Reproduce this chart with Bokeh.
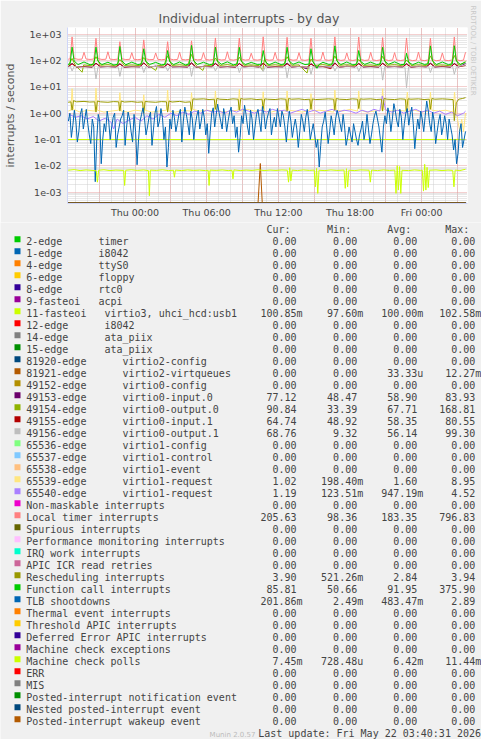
import math
from bokeh.plotting import figure
from bokeh.models import Range1d, FixedTicker, Title
from bokeh.embed import file_html
from bokeh.resources import INLINE
from bokeh.core.properties import value

# ======================= DATA =======================
TITLE = "Individual interrupts - by day"
Y_LABEL = "interrupts / second"
SIDE_TEXT = "RRDTOOL / TOBI OETIKER"
LAST_UPDATE = "Last update: Fri May 22 03:40:31 2026"
FOOTER = "Munin 2.0.57"
HEADERS = ["Cur:", "Min:", "Avg:", "Max:"]

X_TICK_HOURS = [0, 6, 12, 18, 24]          # hours relative to Thu 00:00
X_TICK_LABELS = ["Thu 00:00", "Thu 06:00", "Thu 12:00", "Thu 18:00", "Fri 00:00"]
Y_TICK_VALUES = [1e-3, 1e-2, 1e-1, 1e0, 1e1, 1e2, 1e3]
Y_TICK_LABELS = ["1e-03", "1e-02", "1e-01", "1e+00", "1e+01", "1e+02", "1e+03"]

LEGEND_LABELS = [
    "2-edge      timer", "1-edge      i8042", "4-edge      ttyS0", "6-edge      floppy",
    "8-edge      rtc0", "9-fasteoi   acpi", "11-fasteoi   virtio3, uhci_hcd:usb1",
    "12-edge      i8042", "14-edge      ata_piix", "15-edge      ata_piix",
    "81920-edge      virtio2-config", "81921-edge      virtio2-virtqueues",
    "49152-edge      virtio0-config", "49153-edge      virtio0-input.0",
    "49154-edge      virtio0-output.0", "49155-edge      virtio0-input.1",
    "49156-edge      virtio0-output.1", "65536-edge      virtio1-config",
    "65537-edge      virtio1-control", "65538-edge      virtio1-event",
    "65539-edge      virtio1-request", "65540-edge      virtio1-request",
    "Non-maskable interrupts", "Local timer interrupts", "Spurious interrupts",
    "Performance monitoring interrupts", "IRQ work interrupts", "APIC ICR read retries",
    "Rescheduling interrupts", "Function call interrupts", "TLB shootdowns",
    "Thermal event interrupts", "Threshold APIC interrupts", "Deferred Error APIC interrupts",
    "Machine check exceptions", "Machine check polls", "ERR", "MIS",
    "Posted-interrupt notification event", "Nested posted-interrupt event",
    "Posted-interrupt wakeup event",
]
LEGEND_COLORS = [
    "#00CC00", "#0066B3", "#FF8000", "#FFCC00", "#330099", "#990099", "#CCFF00",
    "#FF0000", "#808080", "#008F00", "#00487D", "#B35A00", "#B38F00", "#6B006B",
    "#8FB300", "#B30000", "#BEBEBE", "#80FF80", "#80C9FF", "#FFC080", "#FFE680",
    "#AA80FF", "#EE00CC", "#FF8080", "#666600", "#FFBFFF", "#00FFCC", "#CC6699",
    "#999900", "#00CC00", "#0066B3", "#FF8000", "#FFCC00", "#330099", "#990099",
    "#CCFF00", "#FF0000", "#808080", "#008F00", "#00487D", "#B35A00",
]
Z = "0.00"
CUR = [Z, Z, Z, Z, Z, Z, "100.85m", Z, Z, Z, Z, Z, Z, "77.12", "90.84", "64.74", "68.76",
       Z, Z, Z, "1.02", "1.19", Z, "205.63", Z, Z, Z, Z, "3.90", "85.81", "201.86m",
       Z, Z, Z, Z, "7.45m", Z, Z, Z, Z, Z]
MIN = [Z, Z, Z, Z, Z, Z, "97.60m", Z, Z, Z, Z, Z, Z, "48.47", "33.39", "48.92", "9.32",
       Z, Z, Z, "198.40m", "123.51m", Z, "98.36", Z, Z, Z, Z, "521.26m", "50.66", "2.49m",
       Z, Z, Z, Z, "728.48u", Z, Z, Z, Z, Z]
AVG = [Z, Z, Z, Z, Z, Z, "100.00m", Z, Z, Z, Z, "33.33u", Z, "58.90", "67.71", "58.35", "56.14",
       Z, Z, Z, "1.60", "947.19m", Z, "183.35", Z, Z, Z, Z, "2.84", "91.95", "483.47m",
       Z, Z, Z, Z, "6.42m", Z, Z, Z, Z, Z]
MAX = [Z, Z, Z, Z, Z, Z, "102.58m", Z, Z, Z, Z, "12.27m", Z, "83.93", "168.81", "80.55", "99.30",
       Z, Z, Z, "8.95", "4.52", Z, "796.83", Z, Z, Z, Z, "3.94", "375.90", "2.89",
       Z, Z, Z, Z, "11.44m", Z, Z, Z, Z, Z]

# series: (hour, value) pairs
ZERO_LINE = [(-5.6, 0.0), (27.67, 0.0)]

FASTEOI11 = [(-5.6, 0.0998), (0.0, 0.1005), (6.0, 0.0992), (12.0, 0.1010), (18.0, 0.0996),
             (24.0, 0.1003), (27.67, 0.10085)]

V81921 = [(10.3, 0.0), (10.49, 0.01227), (10.65, 0.0)]

V49153 = [(-5.6, 57), (-5.27, 78), (-4.9, 56), (-4.27, 60), (-3.6, 55), (-3.27, 80), (-2.9, 57),
          (-2.27, 59), (-1.6, 56), (-1.27, 76), (-0.9, 55), (-0.27, 60), (0.4, 57), (0.73, 82),
          (1.1, 56), (1.73, 61), (2.4, 55), (2.73, 75), (3.1, 57), (3.73, 58), (4.4, 56),
          (4.73, 83.93), (5.1, 55), (5.73, 60), (6.4, 58), (6.73, 79), (7.1, 56), (7.73, 59),
          (8.4, 55), (8.73, 77), (9.1, 57), (9.73, 61), (10.4, 56), (10.73, 80), (11.1, 55),
          (11.73, 58), (12.4, 57), (12.73, 81), (13.1, 56), (13.73, 60), (14.4, 48.47),
          (14.73, 76), (15.1, 57), (15.73, 59), (16.4, 56), (16.73, 82), (17.1, 55), (17.73, 61),
          (18.4, 57), (18.73, 78), (19.1, 56), (19.73, 60), (20.4, 55), (20.73, 80), (21.1, 57),
          (21.73, 59), (22.4, 56), (22.73, 77), (23.1, 55), (23.73, 61), (24.4, 57), (24.73, 81),
          (25.1, 56), (25.73, 60), (26.4, 55), (26.73, 79), (27.1, 57), (27.67, 77.12)]

V49154 = [(-5.6, 64), (-5.27, 120), (-5.0, 66), (-4.43, 36), (-4.3, 68), (-3.6, 63), (-3.27, 140),
          (-2.9, 66), (-2.27, 70), (-1.6, 62), (-1.27, 110), (-0.9, 65), (-0.27, 68), (0.4, 64),
          (0.73, 130), (1.1, 67), (1.73, 42), (1.9, 66), (2.4, 63), (2.73, 150), (3.1, 65),
          (3.73, 69), (4.4, 64), (4.73, 168.81), (5.1, 66), (5.68, 42), (5.85, 67), (6.4, 63),
          (6.73, 125), (7.1, 65), (7.73, 70), (8.4, 62), (8.73, 135), (9.1, 66), (9.73, 68),
          (10.4, 64), (10.69, 42), (10.85, 120), (11.1, 65), (11.73, 69), (12.4, 63), (12.73, 140),
          (13.1, 66), (13.73, 68), (14.4, 33.39), (14.55, 64), (14.73, 115), (15.1, 65),
          (15.73, 70), (16.4, 63), (16.73, 150), (17.1, 66), (17.73, 69), (18.4, 64), (18.73, 110),
          (19.1, 65), (19.73, 68), (20.4, 62), (20.73, 145), (21.1, 66), (21.73, 70), (22.4, 63),
          (22.73, 105), (23.1, 65), (23.73, 69), (24.4, 64), (24.73, 150), (25.1, 66), (25.73, 68),
          (26.4, 63), (26.73, 155), (27.1, 65), (27.67, 90.84)]

V49155 = [(-5.6, 58), (-5.27, 75), (-4.9, 57), (-4.27, 59), (-3.6, 56), (-3.27, 78), (-2.9, 58),
          (-2.27, 60), (-1.6, 57), (-1.27, 74), (-0.9, 56), (-0.27, 58), (0.4, 58), (0.73, 80.55),
          (1.1, 57), (1.73, 60), (2.4, 56), (2.73, 73), (3.1, 58), (3.73, 59), (4.4, 57), (4.73, 79),
          (5.1, 56), (5.73, 60), (6.4, 58), (6.73, 76), (7.1, 57), (7.73, 59), (8.4, 56), (8.73, 77),
          (9.1, 58), (9.73, 60), (10.4, 57), (10.73, 78), (11.1, 56), (11.73, 59), (12.4, 58),
          (12.73, 75), (13.1, 57), (13.73, 60), (14.4, 56), (14.73, 74), (15.1, 58), (15.73, 59),
          (16.4, 48.92), (16.73, 79), (17.1, 56), (17.73, 60), (18.4, 58), (18.73, 76), (19.1, 57),
          (19.73, 59), (20.4, 56), (20.73, 78), (21.1, 58), (21.73, 60), (22.4, 57), (22.73, 73),
          (23.1, 56), (23.73, 59), (24.4, 58), (24.73, 77), (25.1, 57), (25.73, 60), (26.4, 56),
          (26.73, 75), (27.1, 58), (27.67, 64.74)]

V49156 = [(-5.6, 57), (-5.4, 58), (-5.27, 40), (-5.1, 59), (-4.27, 56), (-3.4, 58), (-3.27, 20),
          (-3.1, 57), (-2.27, 58), (-1.4, 56), (-1.27, 25), (-1.1, 58), (-0.27, 57), (0.6, 58),
          (0.73, 35), (0.9, 57), (1.73, 59), (2.6, 56), (2.73, 40), (2.9, 58), (3.73, 57), (4.6, 58),
          (4.73, 25), (4.9, 57), (5.73, 58), (6.6, 56), (6.73, 40), (6.9, 58), (7.73, 57), (8.6, 58),
          (8.73, 35), (8.9, 56), (9.73, 58), (10.6, 57), (10.73, 38), (10.9, 58), (11.73, 56),
          (12.6, 58), (12.73, 22), (12.9, 57), (13.73, 58), (14.6, 56), (14.73, 30), (14.9, 58),
          (15.73, 57), (16.6, 58), (16.73, 40), (16.9, 56), (17.73, 58), (18.6, 57), (18.73, 38),
          (18.9, 58), (19.73, 56), (20.6, 58), (20.73, 18), (20.9, 57), (21.73, 58), (22.6, 56),
          (22.73, 9.32), (22.9, 57), (23.73, 58), (24.6, 57), (24.73, 35), (24.9, 58), (25.73, 56),
          (26.6, 58), (26.73, 30), (26.9, 57), (27.67, 68.76)]

V65539 = [(-5.6, 1.2), (-5.37, 1.3), (-5.27, 8.5), (-5.15, 1.4), (-4.6, 1.1), (-4.0, 1.3),
          (-3.37, 1.2), (-3.27, 8.95), (-3.15, 1.3), (-2.6, 1.1), (-2.0, 1.2), (-1.37, 1.3),
          (-1.27, 6.0), (-1.15, 1.2), (-0.6, 1.1), (0.0, 1.3), (0.63, 1.2), (0.73, 5.0), (0.85, 1.3),
          (1.4, 1.1), (2.0, 1.2), (2.63, 1.3), (2.73, 7.5), (2.85, 1.2), (3.4, 1.1), (4.0, 1.3),
          (4.63, 1.2), (4.73, 6.0), (4.85, 1.4), (5.4, 1.2), (6.0, 1.3), (6.63, 1.2), (6.73, 7.0),
          (6.85, 1.3), (7.4, 1.1), (8.0, 1.2), (8.63, 1.3), (8.73, 8.0), (8.85, 1.2), (9.4, 1.4),
          (10.0, 1.2), (10.63, 1.3), (10.73, 6.5), (10.85, 1.2), (11.4, 1.1), (12.0, 1.3),
          (12.63, 1.2), (12.73, 7.0), (12.85, 1.3), (13.4, 1.2), (14.0, 1.1), (14.63, 1.3),
          (14.73, 5.5), (14.85, 1.2), (15.4, 1.3), (16.0, 1.2), (16.63, 1.1), (16.73, 7.5),
          (16.85, 1.3), (17.4, 1.2), (18.0, 1.4), (18.63, 1.2), (18.73, 7.0), (18.85, 1.3),
          (19.4, 1.1), (20.0, 1.2), (20.63, 1.3), (20.73, 8.5), (20.85, 1.4), (21.4, 1.2),
          (22.0, 1.3), (22.63, 1.2), (22.8, 6.3), (22.95, 1.2), (23.4, 1.3), (24.0, 1.1),
          (24.63, 1.2), (24.73, 6.3), (24.85, 1.3), (25.4, 1.2), (26.0, 1.3), (26.63, 1.1),
          (26.75, 6.3), (26.9, 1.0), (27.2, 0.2), (27.35, 0.6), (27.5, 0.198), (27.67, 1.02)]

V65540 = [(-5.5, 0.9), (-5.0, 0.7), (-4.5, 0.8), (-4.0, 0.6), (-3.5, 0.75), (-3.0, 0.5), (-2.5, 0.65),
          (-2.0, 0.45), (-1.8, 0.25), (-1.5, 0.6), (-1.0, 0.4), (-0.5, 0.55), (0.0, 0.7), (0.5, 0.5),
          (1.0, 0.8), (1.5, 0.6), (2.0, 0.9), (2.5, 0.7), (3.0, 1.0), (3.5, 0.8), (4.0, 1.1),
          (4.5, 0.9), (5.0, 1.2), (5.5, 1.0), (6.0, 1.3), (6.5, 1.1), (7.0, 1.2), (7.5, 1.0),
          (8.0, 1.3), (8.5, 1.1), (9.0, 1.4), (9.5, 1.2), (10.0, 1.0), (10.5, 1.3), (11.0, 1.1),
          (11.5, 1.4), (12.0, 1.2), (12.5, 1.3), (13.0, 1.0), (13.5, 1.2), (14.0, 1.4), (14.5, 1.1),
          (15.0, 1.3), (15.5, 1.0), (16.0, 1.2), (16.5, 1.4), (17.0, 1.1), (17.5, 1.3), (18.0, 1.2),
          (18.5, 1.0), (19.0, 1.3), (19.5, 1.1), (20.0, 1.4), (20.5, 1.2), (20.7, 4.52), (21.0, 1.3),
          (21.5, 1.1), (22.0, 1.3), (22.5, 1.0), (23.0, 1.2), (23.5, 1.4), (24.0, 1.1), (24.5, 1.3),
          (25.0, 1.0), (25.5, 1.2), (26.0, 0.9), (26.5, 1.1), (27.0, 0.8), (27.5, 1.0), (27.67, 1.19)]

LOC = [(-5.6, 112), (-5.44, 115), (-5.27, 790), (-5.1, 120), (-4.77, 111), (-4.44, 113), (-4.27, 205),
       (-4.1, 114), (-3.77, 110), (-3.44, 114), (-3.27, 700), (-3.1, 118), (-2.77, 110), (-2.44, 112),
       (-2.27, 215), (-2.1, 113), (-1.77, 109), (-1.44, 113), (-1.27, 520), (-1.1, 116), (-0.77, 109),
       (-0.44, 111), (-0.27, 200), (-0.1, 112), (0.23, 108), (0.56, 112), (0.73, 610), (0.9, 116),
       (1.23, 108), (1.56, 110), (1.73, 195), (1.9, 111), (2.23, 107), (2.56, 112), (2.73, 520),
       (2.9, 115), (3.23, 107), (3.56, 110), (3.73, 210), (3.9, 110), (4.23, 106), (4.56, 111),
       (4.73, 560), (4.9, 114), (5.23, 106), (5.56, 109), (5.73, 200), (5.9, 110), (6.23, 105),
       (6.56, 110), (6.73, 720), (6.9, 113), (7.23, 105), (7.56, 108), (7.73, 215), (7.9, 109),
       (8.23, 104), (8.56, 110), (8.73, 710), (8.9, 113), (9.23, 104), (9.56, 108), (9.73, 190),
       (9.9, 108), (10.23, 104), (10.56, 109), (10.73, 796.83), (10.9, 112), (11.23, 103), (11.56, 107),
       (11.73, 205), (11.9, 108), (12.23, 103), (12.56, 109), (12.73, 760), (12.9, 112), (13.23, 103),
       (13.56, 107), (13.73, 200), (13.9, 107), (14.23, 102), (14.56, 108), (14.73, 700), (14.9, 111),
       (15.23, 102), (15.56, 106), (15.73, 210), (15.9, 107), (16.23, 102), (16.56, 108), (16.73, 790),
       (16.9, 111), (17.23, 101), (17.56, 106), (17.73, 195), (17.9, 106), (18.23, 101), (18.56, 107),
       (18.73, 780), (18.9, 110), (19.23, 101), (19.56, 105), (19.73, 205), (19.9, 106), (20.23, 100),
       (20.56, 107), (20.73, 740), (20.9, 110), (21.23, 100), (21.56, 105), (21.73, 200), (21.9, 105),
       (22.23, 100), (22.56, 106), (22.73, 720), (22.9, 109), (23.23, 99), (23.56, 104), (23.73, 210),
       (23.9, 105), (24.23, 99), (24.56, 106), (24.73, 700), (24.9, 109), (25.23, 98.36), (25.56, 104),
       (25.73, 195), (25.9, 104), (26.23, 99), (26.56, 105), (26.73, 785), (26.9, 108), (27.23, 99),
       (27.5, 104), (27.67, 205.63)]

RES = [(-5.6, 2.6), (-5.37, 2.7), (-5.27, 1.3), (-5.15, 3.0), (-4.9, 2.7), (-4.27, 2.8), (-3.8, 2.65),
       (-3.37, 2.7), (-3.27, 1.1), (-3.15, 2.9), (-2.9, 2.7), (-2.27, 2.6), (-1.8, 2.75), (-1.37, 2.7),
       (-1.27, 1.2), (-1.15, 2.9), (-0.9, 2.65), (-0.27, 2.75), (0.2, 2.6), (0.63, 2.7), (0.73, 1.0),
       (0.85, 2.8), (1.1, 2.7), (1.73, 2.6), (2.2, 2.75), (2.63, 2.7), (2.73, 1.1), (2.85, 2.9),
       (3.1, 2.65), (3.73, 2.8), (4.2, 2.6), (4.63, 2.7), (4.73, 1.2), (4.85, 3.5), (5.1, 3.4),
       (5.73, 3.5), (6.2, 3.3), (6.63, 3.4), (6.73, 1.4), (6.85, 3.6), (7.1, 3.4), (7.73, 3.3),
       (8.2, 3.5), (8.63, 3.4), (8.73, 1.3), (8.85, 3.6), (9.1, 3.4), (9.73, 3.5), (10.2, 3.3),
       (10.63, 3.4), (10.73, 1.5), (10.85, 3.5), (11.1, 3.4), (11.73, 3.3), (12.2, 3.5), (12.63, 3.4),
       (12.73, 1.2), (12.85, 3.6), (13.1, 3.4), (13.73, 3.5), (14.2, 3.3), (14.63, 3.4), (14.73, 1.4),
       (14.85, 3.5), (15.1, 3.3), (15.73, 3.4), (16.2, 3.5), (16.63, 3.4), (16.73, 1.3), (16.85, 3.6),
       (17.1, 3.4), (17.73, 3.3), (18.2, 3.5), (18.63, 3.4), (18.73, 1.5), (18.85, 3.5), (19.1, 3.4),
       (19.73, 3.5), (20.2, 3.3), (20.63, 3.4), (20.73, 1.2), (20.85, 3.6), (21.1, 3.4), (21.73, 3.3),
       (22.2, 3.5), (22.63, 3.4), (22.73, 1.1), (22.85, 3.5), (23.1, 3.4), (23.73, 3.5), (24.2, 3.3),
       (24.63, 3.4), (24.73, 1.4), (24.85, 3.6), (25.1, 3.4), (25.73, 3.5), (26.2, 3.4), (26.63, 3.3),
       (26.73, 0.52), (26.9, 2.5), (27.1, 3.4), (27.4, 3.6), (27.67, 3.9)]

CAL = [(-5.6, 71), (-5.44, 74), (-5.27, 323), (-5.1, 96), (-4.77, 70), (-4.27, 88), (-3.77, 69),
       (-3.44, 73), (-3.27, 323), (-3.1, 94), (-2.77, 70), (-2.27, 86), (-1.77, 68),
       (-1.44, 72), (-1.27, 340), (-1.1, 97), (-0.77, 69), (-0.27, 87), (0.23, 70),
       (0.56, 74), (0.73, 280), (0.9, 92), (1.23, 71), (1.73, 85), (2.23, 69),
       (2.56, 72), (2.73, 240), (2.9, 90), (3.23, 70), (3.73, 88), (4.23, 68),
       (4.56, 75), (4.73, 375.9), (4.9, 98), (5.23, 71), (5.73, 86), (6.23, 70),
       (6.56, 73), (6.73, 323), (6.9, 95), (7.23, 72), (7.73, 89), (8.23, 69),
       (8.56, 74), (8.73, 320), (8.9, 94), (9.23, 70), (9.73, 85), (10.23, 71),
       (10.56, 72), (10.73, 240), (10.9, 90), (11.23, 69), (11.73, 87), (12.23, 70),
       (12.56, 75), (12.73, 320), (12.9, 96), (13.23, 72), (13.73, 88), (14.23, 70),
       (14.56, 73), (14.73, 280), (14.9, 92), (15.23, 50.66), (15.4, 70), (15.73, 86), (16.23, 71),
       (16.56, 74), (16.73, 360), (16.9, 97), (17.23, 70), (17.73, 88), (18.23, 69),
       (18.56, 72), (18.73, 240), (18.9, 91), (19.23, 71), (19.73, 87), (20.23, 70),
       (20.56, 74), (20.73, 320), (20.9, 95), (21.23, 72), (21.73, 89), (22.23, 70),
       (22.56, 71), (22.73, 190), (22.9, 88), (23.23, 69), (23.73, 86), (24.23, 71),
       (24.56, 75), (24.73, 360), (24.9, 97), (25.23, 70), (25.73, 88), (26.23, 70),
       (26.56, 74), (26.73, 365), (26.9, 96), (27.23, 71), (27.67, 85.81)]

TLB_T0 = -5.58            # TLB shootdowns: one reading every eighth of an hour
TLB_STEP = 0.125
TLB_VALUES = [
    0.5, 1.0, 0.12, 0.35, 1.3, 0.5, 0.08, 0.2, 0.9, 1.5, 0.25, 0.6, 1.4, 0.4, 0.15, 0.07,
    0.6, 0.3, 0.0025, 0.1, 0.9, 0.5, 0.012, 0.1, 0.4, 0.2, 1.2, 0.5, 0.1, 0.3, 0.7, 1.0,
    0.05, 0.15, 0.3, 0.6, 0.8, 1.3, 0.06, 0.3, 1.1, 0.6, 0.2, 0.08,
    0.9, 0.2, 0.011, 0.1, 0.5, 0.9, 1.6, 0.6, 0.15, 0.3, 0.7, 1.1, 0.06, 0.25, 1.0, 1.8,
    0.3, 0.5, 1.5, 0.7, 0.1, 0.3, 0.009, 0.05, 0.6, 0.25, 1.3, 0.7, 0.2, 0.4, 0.9, 1.4,
    0.08, 0.5, 1.7, 0.9, 0.4, 0.15, 1.2, 0.6, 0.1, 0.35, 0.8, 1.3, 0.25, 0.5, 1.4, 0.7,
    0.15, 0.4, 0.03, 0.2, 1.0, 1.6, 0.3, 0.9, 2.2, 1.0, 0.5, 0.25, 1.5, 0.8, 0.2, 0.5,
    1.1, 1.7, 0.4, 0.8, 0.12, 0.3, 0.033, 0.12, 0.8, 0.4, 2.0, 0.9, 0.3, 0.15, 1.3, 0.6,
    0.1, 0.3, 0.9, 1.4, 0.5, 0.2, 1.8, 0.9, 0.25, 0.6, 1.0, 1.5, 0.15, 0.4, 0.7, 0.3,
    1.5, 0.7, 0.3, 1.2, 0.8, 0.3, 0.08, 0.4, 1.2, 0.5, 0.12, 0.3, 0.6, 0.25, 0.05, 0.2,
    0.9, 0.5, 0.2, 0.7, 1.4, 0.5, 0.1, 0.2, 0.4, 0.15, 0.05, 0.1, 0.009, 0.06, 0.3, 0.5,
    1.1, 0.3, 0.07, 0.2, 0.8, 0.4, 0.15, 0.6, 1.3, 0.8, 0.4, 0.2, 0.9, 0.3, 0.06, 0.12,
    0.3, 0.15, 0.08, 0.4, 0.2, 0.1, 0.06, 0.15, 0.25, 0.5, 0.1, 0.2, 0.9, 0.25, 0.07, 0.15,
    0.4, 0.8, 1.2, 0.6, 0.3, 0.1, 0.033, 0.3, 0.8, 0.4, 1.6, 0.9, 0.2, 0.6, 2.3, 1.2,
    0.5, 0.3, 1.4, 0.7, 0.1, 0.4, 1.0, 1.5, 0.35, 0.9, 1.7, 0.4, 0.045, 0.2, 0.6, 0.25,
    1.2, 0.6, 0.2, 0.8, 2.89, 1.3, 0.4, 0.2, 1.1, 0.5, 0.07, 0.2, 0.5, 0.9, 0.15, 0.3,
    0.8, 0.4, 0.1, 0.6, 0.3, 0.15, 0.04, 0.1, 0.012, 0.03, 0.2, 0.4, 0.05, 0.1, 0.2019,
]

MCP = [(-5.6, 0.0068), (-5.1, 0.0072), (-4.6, 0.0066), (-4.1, 0.0070), (-3.6, 0.0067), (-3.25, 0.0065),
       (-3.15, 0.0024), (-3.05, 0.0068), (-2.6, 0.0071), (-2.1, 0.0066), (-1.6, 0.0069), (-0.95, 0.0067),
       (-0.87, 0.0018), (-0.78, 0.0068), (-0.3, 0.0071), (0.2, 0.0067), (0.7, 0.0070), (1.12, 0.0066),
       (1.2, 0.00073), (1.28, 0.0069), (1.8, 0.0067), (2.3, 0.0071), (2.8, 0.0066), (3.22, 0.0068),
       (3.3, 0.0037), (3.38, 0.0069), (3.9, 0.0066), (4.4, 0.0070), (4.9, 0.0067), (5.4, 0.0069),
       (5.9, 0.0066), (6.12, 0.0068), (6.2, 0.0018), (6.28, 0.0069), (6.8, 0.0067), (7.3, 0.0070),
       (7.8, 0.0066), (8.12, 0.0068), (8.2, 0.0032), (8.28, 0.0070), (8.8, 0.0066), (9.3, 0.0069),
       (9.8, 0.0067), (10.3, 0.0071), (10.8, 0.0066), (11.3, 0.0069), (11.8, 0.0067), (12.3, 0.0070),
       (12.75, 0.0068), (12.85, 0.0024), (12.95, 0.0085), (13.05, 0.0027), (13.15, 0.0069),
       (13.6, 0.0066), (14.1, 0.0070), (14.6, 0.0067), (15.0, 0.0069), (15.1, 0.0016), (15.2, 0.0080),
       (15.3, 0.0009), (15.4, 0.0068), (15.9, 0.0066), (16.4, 0.0070), (16.9, 0.0067), (17.5, 0.0069),
       (17.6, 0.0014), (17.7, 0.0078), (17.8, 0.0016), (17.9, 0.0068), (18.4, 0.0066), (18.9, 0.0070),
       (19.6, 0.0068), (19.7, 0.0024), (19.8, 0.0069), (20.3, 0.0066), (20.8, 0.0070), (21.3, 0.0067),
       (21.75, 0.0069), (21.85, 0.0009), (21.95, 0.0101), (22.05, 0.0012), (22.15, 0.0094),
       (22.25, 0.0009), (22.35, 0.0068), (22.9, 0.0066), (23.4, 0.0070), (23.9, 0.0067),
       (24.05, 0.0069), (24.15, 0.0011), (24.25, 0.01144), (24.35, 0.0012), (24.45, 0.0088),
       (24.55, 0.0015), (24.65, 0.0068), (25.2, 0.0070), (25.7, 0.0066), (26.2, 0.0069),
       (26.6, 0.0067), (26.7, 0.0016), (26.8, 0.0069), (27.2, 0.0066), (27.67, 0.00745)]

# legend index -> drawn series (all others are zero everywhere)
SERIES = {6: FASTEOI11, 11: V81921, 13: V49153, 14: V49154, 15: V49155, 16: V49156,
          20: V65539, 21: V65540, 23: LOC, 28: RES, 29: CAL, 35: MCP}

# ======================= MAIN PLOT =======================
W = 481
MAIN_H = 222
LEG_H = 739 - MAIN_H
FR_L, FR_R, FR_T, FR_B = 66, 467, 27, 203   # plot frame in page pixels
X0, X1 = -5.654, 27.835
LOG_BOT, LOG_TOP = -3.430, 3.2545
Y_FLOOR = 10 ** LOG_BOT
Y_ZERO = 10 ** (LOG_BOT + 0.6 / 26.33)      # zero values sit on the bottom edge

BG = "#F0F0F0"
TXT = "#444444"
AXIS_COL = "#CFD6F8"
NB = "\u00a0"

p = figure(width=W, height=MAIN_H, title=None,
           x_range=Range1d(X0, X1), y_range=Range1d(Y_FLOOR, 10 ** LOG_TOP),
           y_axis_type="log", output_backend="svg", toolbar_location=None,
           min_border_left=FR_L, min_border_right=W - FR_R,
           min_border_top=FR_T, min_border_bottom=MAIN_H - FR_B,
           background_fill_color="white", border_fill_color=BG, outline_line_color=None)

x_major = list(range(-3, 28, 3))
x_minor = list(range(-5, 28))
xt = FixedTicker(ticks=x_major, minor_ticks=x_minor)
p.xaxis.ticker = xt
p.xgrid.ticker = xt
ov = {t: "" for t in x_major}
ov.update(dict(zip(X_TICK_HOURS, X_TICK_LABELS)))
p.xaxis.major_label_overrides = ov

y_minor = [k * 10.0 ** e for e in range(-4, 4) for k in range(2, 10)
           if Y_FLOOR <= k * 10.0 ** e <= 10 ** LOG_TOP]
yt = FixedTicker(ticks=Y_TICK_VALUES, minor_ticks=y_minor)
p.yaxis.ticker = yt
p.ygrid.ticker = yt
p.yaxis.major_label_overrides = dict(zip(Y_TICK_VALUES, Y_TICK_LABELS))

for ax in (p.xaxis[0], p.yaxis[0]):
    ax.axis_line_color = AXIS_COL
    ax.major_tick_out = 0
    ax.major_tick_in = 0
    ax.minor_tick_out = 0
    ax.minor_tick_in = 0
    ax.major_label_text_font = "DejaVu Sans"
    ax.major_label_text_font_size = "9.5px"
    ax.major_label_text_color = TXT
p.yaxis.major_label_standoff = 6
p.xaxis.major_label_standoff = 3
p.yaxis.axis_label = Y_LABEL
p.yaxis.axis_label_text_font = "DejaVu Sans"
p.yaxis.axis_label_text_font_size = "11px"
p.yaxis.axis_label_text_font_style = "normal"
p.yaxis.axis_label_text_color = "#555555"
p.yaxis.axis_label_standoff = 10

for g in (p.xgrid[0], p.ygrid[0]):
    g.grid_line_color = "#E8A0A0"
    g.grid_line_dash = "1 1"
    g.grid_line_width = 1
    g.minor_grid_line_color = "#D0D0D0"
    g.minor_grid_line_dash = "1 1"
    g.minor_grid_line_width = 1

for i, col in enumerate(LEGEND_COLORS):        # drawn in legend order
    if i == 30:
        xs = [TLB_T0 + k * TLB_STEP for k in range(len(TLB_VALUES))]
        ys = list(TLB_VALUES)
    else:
        pts = SERIES.get(i, ZERO_LINE)
        xs = [t for t, _ in pts]
        ys = [v for _, v in pts]
    ys = [v if v > 0 else Y_ZERO for v in ys]
    p.line(xs, ys, line_color=col, line_width=1)

p.add_layout(Title(text=TITLE, align="left", offset=91, standoff=3,
                   text_font="DejaVu Sans", text_font_size="12.5px",
                   text_font_style="normal", text_color="#555555"), "above")
p.add_layout(Title(text=SIDE_TEXT, align="left", offset=-22, standoff=2,
                   vertical_align="bottom",
                   text_font="DejaVu Sans", text_font_size="7px",
                   text_font_style="normal", text_color="#C8C8C8"), "right")

# ======================= LEGEND (second root, below) =======================
ROW0 = 240.9                      # baseline of the first legend row (page px)
ROW_STEP = 12.0
CHAR_W = 6.02
LABEL_X = 25.7
COL_X = [296.0, 356.7, 416.8, 474.8]   # right edge of the numbers in each column
MONO = value("DejaVu Sans Mono")
FS = value("10px")

lg = figure(width=W, height=LEG_H, title=None, x_range=Range1d(0, W),
            y_range=Range1d(MAIN_H + LEG_H, MAIN_H), output_backend="svg",
            toolbar_location=None, min_border=0, x_axis_type=None, y_axis_type=None,
            background_fill_color=BG, border_fill_color=BG, outline_line_color=None)

n = len(LEGEND_LABELS)
rows_y = [ROW0 + ROW_STEP * i for i in range(n)]
lg.rect(x=[17] * n, y=[y - 2.2 for y in rows_y], width=6, height=6,
        fill_color=LEGEND_COLORS, line_color=None)
lg.text(x=[LABEL_X] * n, y=rows_y, text=[s.replace(" ", NB) for s in LEGEND_LABELS],
        text_font=MONO, text_font_size=FS, text_color=TXT, text_baseline="alphabetic",
        text_align="left")
lg.text(x=[c - CHAR_W for c in COL_X], y=[ROW0 - ROW_STEP] * 4,
        text=HEADERS, text_font=MONO, text_font_size=FS, text_color=TXT,
        text_baseline="alphabetic", text_align="right")
for c, colvals in zip(COL_X, (CUR, MIN, AVG, MAX)):
    xs = [c + (CHAR_W if s[-1] in "mu" else 0) for s in colvals]
    lg.text(x=xs, y=rows_y, text=colvals, text_font=MONO, text_font_size=FS,
            text_color=TXT, text_baseline="alphabetic", text_align="right")
lg.text(x=[480.5], y=[ROW0 + ROW_STEP * n], text=[LAST_UPDATE], text_font=MONO,
        text_font_size=FS, text_color=TXT, text_baseline="alphabetic", text_align="right")
lg.text(x=[232], y=[734.6], text=[FOOTER], text_font=value("DejaVu Sans"),
        text_font_size=value("7px"), text_color="#BBBBBB", text_baseline="alphabetic",
        text_align="center")

open("out.html", "w").write(file_html([p, lg], INLINE))
